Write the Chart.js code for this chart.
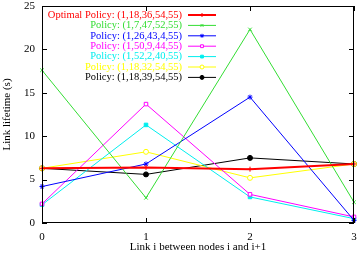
<!DOCTYPE html>
<html>
<head>
<meta charset="utf-8">
<script src="https://cdn.jsdelivr.net/npm/chart.js@4"></script>
<style>
  html, body { margin: 0; padding: 0; background: #fff; }
  #wrap { width: 359px; height: 254px; }
</style>
</head>
<body>
<div id="wrap"><canvas id="c" width="359" height="254"></canvas></div>
<script>
const links = ['0', '1', '2', '3'];
const yTicks = [0, 5, 10, 15, 20, 25];

const policyNames = [
  'Optimal Policy: (1,18,36,54,55)',
  'Policy: (1,7,47,52,55)',
  'Policy: (1,26,43,4,55)',
  'Policy: (1,50,9,44,55)',
  'Policy: (1,52,2,40,55)',
  'Policy: (1,18,32,54,55)',
  'Policy: (1,18,39,54,55)'
];
const optimal  = [6.3, 6.4, 6.2, 6.8];
const policy2  = [17.6, 2.9, 22.3, 2.4];
const policy3  = [4.2, 6.8, 14.5, 0.3];
const policy4  = [2.2, 13.7, 3.3, 0.7];
const policy5  = [2.1, 11.3, 3.0, 0.5];
const policy6  = [6.3, 8.2, 5.2, 6.8];
const policy7  = [6.3, 5.6, 7.5, 6.8];

const colors = ['#ff0000', '#33dd33', '#0000ff', '#ff00ff', '#00eeee', '#ffff00', '#000000'];
const styles = ['cross', 'crossRot', 'star', 'rect', 'rect', 'circle', 'circle'];
const filled = [true, true, true, false, true, false, true];
const series = [optimal, policy2, policy3, policy4, policy5, policy6, policy7];

const FONT = '"Liberation Serif", "Times New Roman", serif';

const datasets = series.map((vals, i) => ({
  label: policyNames[i],
  data: vals,
  borderColor: colors[i],
  backgroundColor: filled[i] ? colors[i] : '#ffffff',
  pointBorderColor: colors[i],
  pointBackgroundColor: filled[i] ? colors[i] : '#ffffff',
  pointStyle: styles[i],
  pointRadius: 2.5,
  pointBorderWidth: 1,
  borderWidth: i === 0 ? 2 : 1,
  tension: 0
}));

// gnuplot-like frame, inner ticks and right-aligned legend
const framePlugin = {
  id: 'frame',
  afterDraw(chart) {
    const { ctx, chartArea: a, scales } = chart;
    ctx.save();
    ctx.strokeStyle = '#000';
    ctx.lineWidth = 1;
    ctx.strokeRect(Math.round(a.left) + 0.5, Math.round(a.top) + 0.5,
      Math.round(a.right - a.left) - 1, Math.round(a.bottom - a.top) - 1);
    ctx.beginPath();
    yTicks.forEach(v => {
      const y = Math.round(scales.y.getPixelForValue(v)) + 0.5;
      ctx.moveTo(a.left, y); ctx.lineTo(a.left + 5, y);
      ctx.moveTo(a.right, y); ctx.lineTo(a.right - 5, y);
    });
    links.forEach((l, i) => {
      const x = Math.round(scales.x.getPixelForValue(i)) + 0.5;
      ctx.moveTo(x, a.bottom); ctx.lineTo(x, a.bottom - 5);
      ctx.moveTo(x, a.top); ctx.lineTo(x, a.top + 5);
    });
    ctx.stroke();

    // legend
    ctx.font = '10.5px ' + FONT;
    ctx.textAlign = 'right';
    ctx.textBaseline = 'middle';
    const textRight = 182, lx0 = 188, lx1 = 216;
    policyNames.forEach((name, i) => {
      const y = 15 + i * 10.4;
      ctx.fillStyle = colors[i];
      ctx.fillText(name, textRight, y);
      ctx.strokeStyle = colors[i];
      ctx.lineWidth = i === 0 ? 2 : 1;
      ctx.beginPath();
      ctx.moveTo(lx0, y); ctx.lineTo(lx1, y);
      ctx.stroke();
      ctx.lineWidth = 1;
      ctx.fillStyle = filled[i] ? colors[i] : '#ffffff';
      Chart.helpers.drawPoint(ctx, {
        pointStyle: styles[i], radius: 2, borderWidth: 1
      }, (lx0 + lx1) / 2, y);
    });
    ctx.restore();
  }
};

new Chart(document.getElementById('c'), {
  type: 'line',
  data: { labels: links, datasets },
  plugins: [framePlugin],
  options: {
    responsive: false,
    animation: false,
    layout: { padding: { left: 0, right: 4, top: 6, bottom: 0 } },
    plugins: { legend: { display: false }, tooltip: { enabled: false } },
    scales: {
      x: {
        offset: false,
        grid: { display: false, drawTicks: false },
        border: { display: false },
        ticks: { color: '#000', font: { family: FONT, size: 11 }, padding: 8, maxRotation: 0 },
        title: { display: true, text: 'Link i between nodes i and i+1', color: '#000',
          font: { family: FONT, size: 11 }, padding: { top: 0, bottom: 0 } },
        afterFit(s) { s.height = 31; s.paddingLeft = 0; s.paddingRight = 0; }
      },
      y: {
        min: 0, max: 25,
        grid: { display: false, drawTicks: false },
        border: { display: false },
        ticks: { stepSize: 5, color: '#000', font: { family: FONT, size: 11 }, padding: 7 },
        title: { display: true, text: 'Link lifetime (s)', color: '#000',
          font: { family: FONT, size: 11 }, padding: { top: 1, bottom: 0 } },
        afterFit(s) { s.width = 42; s.paddingTop = 0; s.paddingBottom = 0; }
      }
    }
  }
});
</script>
</body>
</html>
